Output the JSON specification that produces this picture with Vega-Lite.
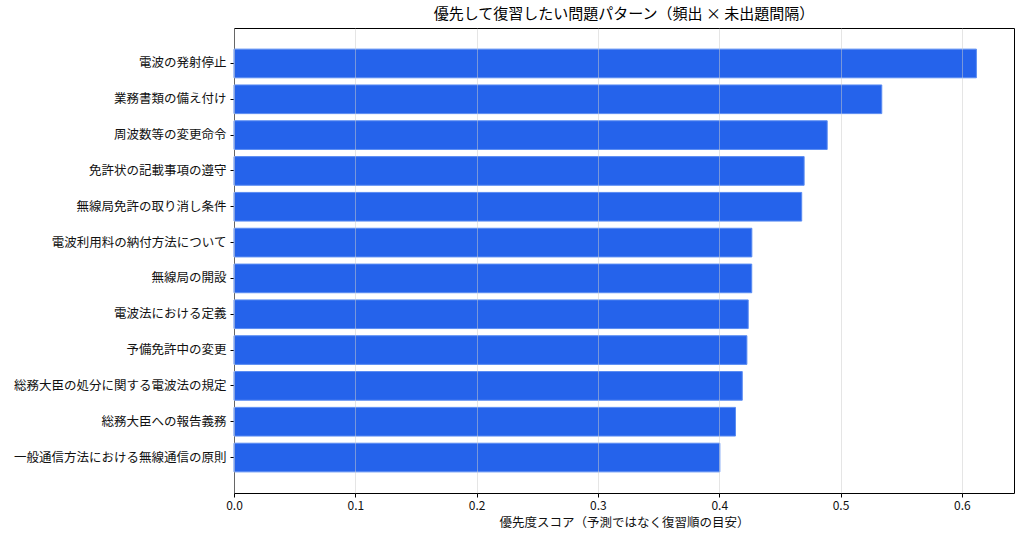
{
  "$schema": "https://vega.github.io/schema/vega-lite/v6.json",
  "width": 780,
  "height": 465,
  "autosize": "none",
  "padding": {"left": 234, "top": 28, "right": 10, "bottom": 48},
  "background": "white",
  "title": {
    "text": "優先して復習したい問題パターン（頻出 × 未出題間隔）",
    "font": "Noto Sans CJK JP",
    "fontSize": 15,
    "fontWeight": "normal",
    "color": "#000000",
    "offset": 6
  },
  "config": {
    "font": "Noto Sans CJK JP",
    "view": {"stroke": "#000000", "strokeWidth": 1}
  },
  "data": {
    "values": [
      {"pattern": "電波の発射停止", "score": 0.612},
      {"pattern": "業務書類の備え付け", "score": 0.534},
      {"pattern": "周波数等の変更命令", "score": 0.489},
      {"pattern": "免許状の記載事項の遵守", "score": 0.470},
      {"pattern": "無線局免許の取り消し条件", "score": 0.468},
      {"pattern": "電波利用料の納付方法について", "score": 0.4269},
      {"pattern": "無線局の開設", "score": 0.4268},
      {"pattern": "電波法における定義", "score": 0.4239},
      {"pattern": "予備免許中の変更", "score": 0.4228},
      {"pattern": "総務大臣の処分に関する電波法の規定", "score": 0.419},
      {"pattern": "総務大臣への報告義務", "score": 0.4134},
      {"pattern": "一般通信方法における無線通信の原則", "score": 0.4005}
    ]
  },
  "mark": {
    "type": "bar",
    "fill": "#2563EB",
    "stroke": "#5a8cf2",
    "strokeWidth": 1
  },
  "encoding": {
    "y": {
      "field": "pattern",
      "type": "nominal",
      "sort": null,
      "scale": {"paddingInner": 0.2, "paddingOuter": 0.59},
      "axis": {
        "title": null,
        "labelFontSize": 12.5,
        "labelColor": "#111111",
        "labelPadding": 4,
        "labelLimit": 300,
        "tickSize": 4,
        "tickColor": "#000000",
        "domain": false,
        "grid": false
      }
    },
    "x": {
      "field": "score",
      "type": "quantitative",
      "scale": {"domain": [0, 0.643], "nice": false, "zero": true},
      "axis": {
        "title": "優先度スコア（予測ではなく復習順の目安）",
        "titleFontSize": 12.5,
        "titleFontWeight": "normal",
        "titleColor": "#111111",
        "titlePadding": 5,
        "values": [0, 0.1, 0.2, 0.3, 0.4, 0.5, 0.6],
        "format": ".1f",
        "labelFontSize": 12,
        "labelColor": "#111111",
        "labelPadding": 3,
        "labelFlush": false,
        "tickSize": 4,
        "tickColor": "#000000",
        "domain": false,
        "grid": true,
        "gridColor": "#cccccc",
        "gridOpacity": 0.5,
        "zindex": 1
      }
    }
  }
}
